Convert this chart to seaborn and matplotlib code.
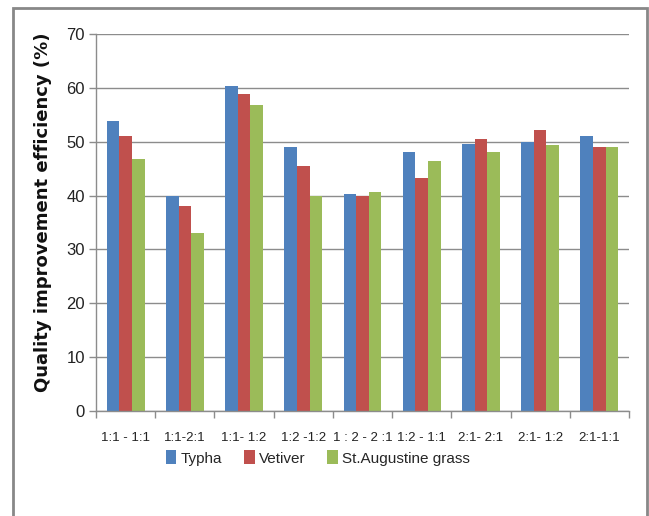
import matplotlib
matplotlib.use("Agg")
import matplotlib.pyplot as plt
from matplotlib.patches import Rectangle
from matplotlib.ticker import FixedLocator
import seaborn as sns
import pandas as pd

# Planting ratio combinations and efficiency for each species
categories = ["1:1 - 1:1", "1:1-2:1", "1:1- 1:2", "1:2 -1:2", "1 : 2 - 2 :1",
              "1:2 - 1:1", "2:1- 2:1", "2:1- 1:2", "2:1-1:1"]
typha = [53.8, 40.0, 60.4, 49.1, 40.3, 48.1, 49.6, 50.0, 51.0]
vetiver = [51.0, 38.1, 58.8, 45.4, 39.9, 43.3, 50.5, 52.1, 49.1]
st_augustine = [46.7, 33.1, 56.9, 40.0, 40.7, 46.5, 48.1, 49.4, 49.1]
species = ["Typha", "Vetiver", "St.Augustine grass"]
colors = ["#4F81BD", "#C0504D", "#9BBB59"]
y_ticks = [0, 10, 20, 30, 40, 50, 60, 70]

df = pd.DataFrame({
    "combo": categories * 3,
    "species": [species[0]] * 9 + [species[1]] * 9 + [species[2]] * 9,
    "value": typha + vetiver + st_augustine,
})

sns.set_theme(style="white")
plt.rcParams["font.family"] = ["Liberation Sans", "DejaVu Sans"]

fig = plt.figure(figsize=(6.49, 5.16), dpi=100)
ax = fig.add_axes([96 / 649, 105 / 516, 533 / 649, 377 / 516])

sns.barplot(data=df, x="combo", y="value", hue="species", order=categories,
            hue_order=species, palette=colors, saturation=1, width=0.64, gap=0,
            linewidth=0, errorbar=None, ax=ax)

ax.set_ylim(0, 70)
ax.set_xlim(-0.5, len(categories) - 0.5)
ax.set_yticks(y_ticks)
ax.yaxis.grid(True, color="#8c8c8c", linewidth=1.0)
ax.set_axisbelow(True)

for side in ("top", "right"):
    ax.spines[side].set_visible(False)
for side in ("left", "bottom"):
    ax.spines[side].set_color("#8c8c8c")
    ax.spines[side].set_linewidth(1.0)

ax.tick_params(axis="y", which="major", left=True, length=5, width=1,
               color="#8c8c8c", labelsize=12, pad=3, labelcolor="#222222")
ax.tick_params(axis="x", which="major", bottom=False, labelsize=9.5, pad=9,
               labelcolor="#222222")
ax.xaxis.set_minor_locator(FixedLocator([i - 0.5 for i in range(len(categories) + 1)]))
ax.tick_params(axis="x", which="minor", bottom=True, length=5, width=1,
               color="#8c8c8c")

ax.set_xlabel("")
ax.set_ylabel("Quality improvement efficiency (%)", fontsize=13,
              fontweight="bold", family=["DejaVu Sans"], color="#111111")
ax.yaxis.set_label_coords(-0.082, 0.528)

ax.legend_.remove()
handles = [Rectangle((0, 0), 1, 1, facecolor=c, edgecolor="none") for c in colors]
fig.legend(handles, species, loc="center", bbox_to_anchor=(318 / 649, 1 - 458 / 516),
           ncol=3, frameon=False, fontsize=11, handlelength=0.7, handleheight=1.0,
           handletextpad=0.3, columnspacing=1.4)

fig.patches.append(Rectangle((13 / 649, -0.05), 634 / 649, 1.05 - 8 / 516,
                             transform=fig.transFigure, fill=False,
                             edgecolor="#888888", linewidth=2))

fig.savefig("out.png", dpi=100)
